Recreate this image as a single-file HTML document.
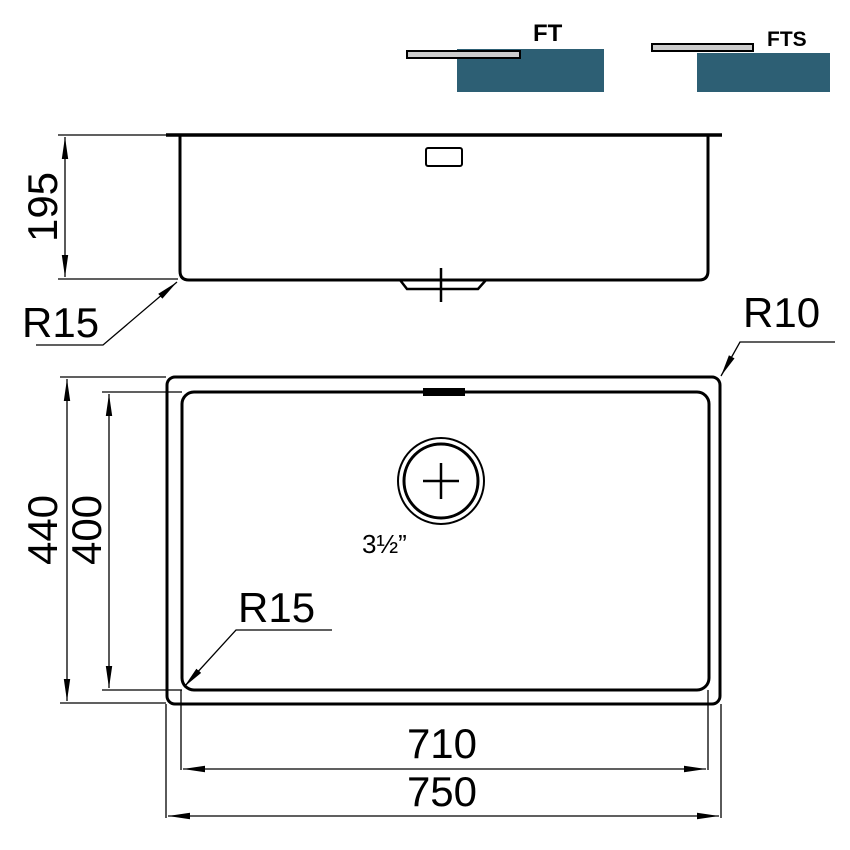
<!DOCTYPE html>
<html><head><meta charset="utf-8"><style>body{margin:0;background:#fff}svg{display:block}</style></head>
<body>
<svg width="850" height="850" viewBox="0 0 850 850" xmlns="http://www.w3.org/2000/svg" font-family="Liberation Sans, sans-serif">
<defs>
<marker id="a" viewBox="0 0 10 10" refX="10" refY="5" markerWidth="22" markerHeight="8" markerUnits="userSpaceOnUse" orient="auto-start-reverse" preserveAspectRatio="none"><path d="M0,1L10,5L0,9z" fill="#000"/></marker>
</defs>
<!-- legend -->
<rect x="457" y="49" width="147" height="43" fill="#2d5f74"/>
<rect x="407" y="51" width="113" height="7" fill="#ccc" stroke="#000" stroke-width="2"/>
<text x="533" y="41" font-size="24" font-weight="bold">FT</text>
<rect x="697" y="53" width="133" height="39" fill="#2d5f74"/>
<rect x="652" y="44" width="101" height="7" fill="#ccc" stroke="#000" stroke-width="2"/>
<text x="767" y="46" font-size="21" font-weight="bold">FTS</text>

<g fill="none" stroke="#000">
<!-- side view -->
<line x1="166" y1="135" x2="722" y2="135" stroke-width="3.5"/>
<path d="M180,135 V271 Q180,280 189,280 H699 Q708,280 708,271 V135" stroke-width="3"/>
<rect x="426" y="148" width="36" height="18" rx="2" stroke-width="2"/>
<path d="M400,280 L407,289 H478 L486,280" stroke-width="2.5"/>
<line x1="441" y1="268" x2="441" y2="302" stroke-width="2.5"/>
<g stroke-width="1.3">
<line x1="58" y1="135" x2="170" y2="135"/>
<line x1="58" y1="279" x2="178" y2="279"/>
<line x1="65" y1="137" x2="65" y2="277" marker-start="url(#a)" marker-end="url(#a)"/>
<polyline points="36,345 103,345 177,282" marker-end="url(#a)"/>
</g>
<!-- plan view -->
<rect x="167" y="377" width="553" height="327" rx="8" stroke-width="3"/>
<rect x="182" y="392" width="527" height="298" rx="12" stroke-width="3"/>
<rect x="423" y="388" width="42" height="8" fill="#000" stroke="none"/>
<circle cx="441" cy="481" r="43" stroke-width="2"/>
<circle cx="441" cy="481" r="37" stroke-width="3"/>
<line x1="423" y1="481" x2="459" y2="481" stroke-width="2.5"/>
<line x1="441" y1="463" x2="441" y2="499" stroke-width="2.5"/>
<g stroke-width="1.3">
<line x1="60" y1="377" x2="166" y2="377"/>
<line x1="60" y1="703" x2="166" y2="703"/>
<line x1="67" y1="379" x2="67" y2="701" marker-start="url(#a)" marker-end="url(#a)"/>
<line x1="102" y1="392" x2="182" y2="392"/>
<line x1="102" y1="690" x2="182" y2="690"/>
<line x1="109" y1="394" x2="109" y2="688" marker-start="url(#a)" marker-end="url(#a)"/>
<line x1="181" y1="690" x2="181" y2="770"/>
<line x1="708" y1="690" x2="708" y2="770"/>
<line x1="166" y1="704" x2="166" y2="818"/>
<line x1="721" y1="704" x2="721" y2="818"/>
<line x1="183" y1="769" x2="706" y2="769" marker-start="url(#a)" marker-end="url(#a)"/>
<line x1="168" y1="816" x2="719" y2="816" marker-start="url(#a)" marker-end="url(#a)"/>
<polyline points="835,342 740,342 721,376" marker-end="url(#a)"/>
<polyline points="332,630 236,630 184,687" marker-end="url(#a)"/>
</g>
</g>
<g font-size="42" fill="#000">
<text transform="translate(57,207) rotate(-90)" text-anchor="middle">195</text>
<text transform="translate(57,530) rotate(-90)" text-anchor="middle">440</text>
<text transform="translate(101,530) rotate(-90)" text-anchor="middle">400</text>
<text x="22" y="337">R15</text>
<text x="743" y="327">R10</text>
<text x="238" y="622">R15</text>
<text x="442" y="758" text-anchor="middle">710</text>
<text x="442" y="806" text-anchor="middle">750</text>
<text x="362" y="553" font-size="26">3½”</text>
</g>
</svg>
</body></html>
